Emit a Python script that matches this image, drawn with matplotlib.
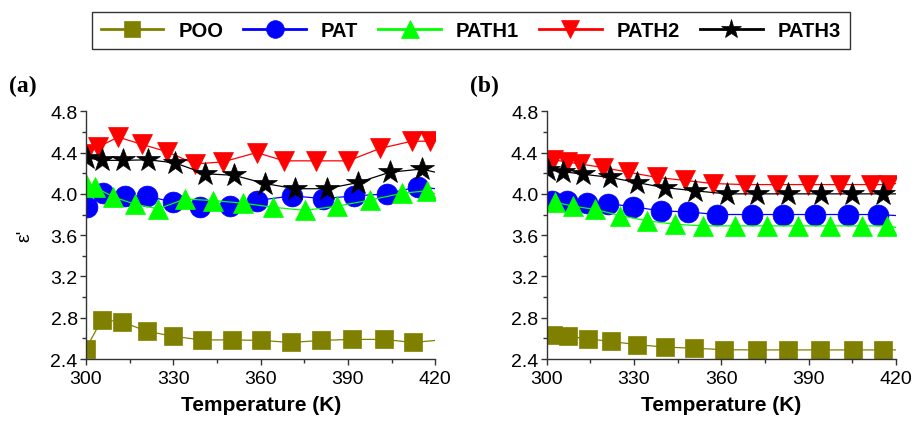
import matplotlib
matplotlib.use('Agg')
import matplotlib.pyplot as plt
from matplotlib.ticker import MultipleLocator

plt.rcParams['font.family'] = ['Liberation Sans', 'DejaVu Sans']

# panel (a)
t_poo_a = [300, 305.4, 312.4, 320.8, 329.9, 339.7, 350.0, 360.2, 370.5, 380.6, 391.4, 402.3, 412.5, 420]
poo_a = [2.50, 2.78, 2.76, 2.67, 2.62, 2.585, 2.585, 2.58, 2.56, 2.58, 2.59, 2.59, 2.56, 2.58]
t_pat_a = [300.5, 305.9, 313.4, 320.8, 329.8, 339.2, 349.5, 358.6, 370.7, 381.5, 392.2, 403.3, 414.2, 420]
pat_a = [3.87, 4.01, 3.98, 3.98, 3.92, 3.87, 3.88, 3.935, 3.98, 3.955, 3.98, 4.00, 4.07, 4.05]
t_path1_a = [300, 303.1, 309.4, 316.8, 324.8, 334.0, 343.7, 354.0, 364.3, 375.2, 386.1, 397.6, 408.5, 417.0, 420]
path1_a = [4.10, 4.065, 3.97, 3.90, 3.855, 3.95, 3.935, 3.91, 3.87, 3.84, 3.88, 3.94, 4.005, 4.03, 4.00]
t_path2_a = [300, 304.2, 311.1, 319.1, 327.7, 337.4, 347.1, 358.6, 368.1, 379.0, 390.1, 401.0, 411.9, 418.2, 420]
path2_a = [4.39, 4.455, 4.55, 4.48, 4.41, 4.29, 4.31, 4.40, 4.32, 4.32, 4.32, 4.44, 4.51, 4.51, 4.52]
t_path3_a = [300.5, 305.4, 312.8, 321.4, 330.6, 340.9, 350.8, 361.5, 371.8, 382.7, 393.5, 404.4, 415.3, 420]
path3_a = [4.35, 4.325, 4.325, 4.33, 4.30, 4.195, 4.18, 4.10, 4.05, 4.05, 4.11, 4.21, 4.24, 4.21]

# panel (b)
t_poo_b = [302.3, 307.4, 314.3, 322.0, 330.9, 340.6, 350.6, 360.9, 372.1, 383.0, 393.9, 405.3, 415.6, 420]
poo_b = [2.63, 2.62, 2.595, 2.57, 2.54, 2.515, 2.505, 2.49, 2.488, 2.488, 2.488, 2.488, 2.488, 2.488]
t_pat_b = [301.7, 306.9, 313.7, 321.2, 329.7, 339.2, 348.6, 358.4, 370.4, 381.3, 392.2, 403.4, 413.9, 420]
pat_b = [3.93, 3.93, 3.915, 3.905, 3.875, 3.835, 3.825, 3.80, 3.80, 3.80, 3.80, 3.80, 3.80, 3.79]
t_path1_b = [302.9, 309.1, 316.6, 325.2, 334.4, 344.1, 353.8, 364.7, 375.6, 386.4, 397.3, 408.2, 416.8, 420]
path1_b = [3.92, 3.88, 3.85, 3.79, 3.74, 3.705, 3.69, 3.69, 3.69, 3.69, 3.69, 3.69, 3.69, 3.675]
t_path2_b = [302.3, 306.9, 311.4, 319.4, 328.0, 337.8, 347.5, 357.2, 368.1, 379.0, 389.9, 400.8, 411.6, 417.3, 420]
path2_b = [4.33, 4.31, 4.29, 4.255, 4.21, 4.16, 4.13, 4.10, 4.09, 4.09, 4.09, 4.09, 4.09, 4.09, 4.10]
t_path3_b = [300.6, 305.7, 312.6, 321.7, 330.9, 340.6, 350.9, 361.8, 372.1, 383.0, 394.2, 404.8, 415.6, 420]
path3_b = [4.23, 4.215, 4.19, 4.16, 4.11, 4.06, 4.03, 4.00, 4.00, 4.00, 4.00, 4.00, 4.00, 4.00]

names = ['POO', 'PAT', 'PATH1', 'PATH2', 'PATH3']
colors = ['#808000', '#0000ff', '#00ff00', '#ff0000', '#000000']
markers = ['s', 'o', '^', 'v', '*']
sizes = [13, 15, 15, 15, 17.5]


def draw_panel(ax, series, tag):
    for (t, y), name, c, m, ms in zip(series, names, colors, markers, sizes):
        ax.plot(t, y, color=c, lw=0.9, marker=m, ms=ms, mfc=c, mec=c, mew=0.5,
                markevery=slice(None, -1), label=name)
    ax.set_xlim(300, 420)
    ax.set_ylim(2.4, 4.8)
    ax.xaxis.set_major_locator(MultipleLocator(30))
    ax.xaxis.set_minor_locator(MultipleLocator(15))
    ax.yaxis.set_major_locator(MultipleLocator(0.4))
    ax.yaxis.set_minor_locator(MultipleLocator(0.2))
    ax.yaxis.set_major_formatter(plt.FormatStrFormatter('%.1f'))
    ax.spines['top'].set_visible(False)
    ax.spines['right'].set_visible(False)
    for s in ['left', 'bottom']:
        ax.spines[s].set_linewidth(1.0)
        ax.spines[s].set_color('#333333')
    ax.tick_params(which='major', direction='out', length=4.5, width=1, labelsize=14, color='#333333')
    ax.tick_params(axis='y', which='major', pad=1.5)
    ax.tick_params(which='minor', direction='out', length=3, width=1, color='#333333')
    ax.set_xlabel('Temperature (K)', fontsize=15, fontweight='bold', labelpad=6)
    ax.text(-0.22, 1.105, tag, transform=ax.transAxes, fontsize=17, fontweight='bold',
            family='Liberation Serif', va='center', ha='left')


fig = plt.figure(figsize=(9.16, 4.27), dpi=100)
ax1 = fig.add_axes([0.0939, 0.1569, 0.3813, 0.5801])
ax2 = fig.add_axes([0.5968, 0.1569, 0.3813, 0.5801])

draw_panel(ax1, [(t_poo_a, poo_a), (t_pat_a, pat_a), (t_path1_a, path1_a),
                 (t_path2_a, path2_a), (t_path3_a, path3_a)], '(a)')
draw_panel(ax2, [(t_poo_b, poo_b), (t_pat_b, pat_b), (t_path1_b, path1_b),
                 (t_path2_b, path2_b), (t_path3_b, path3_b)], '(b)')

ax1.set_ylabel("ε'", fontsize=14, labelpad=12)

handles, labels = ax1.get_legend_handles_labels()
leg = fig.legend(handles, labels, loc='upper center', bbox_to_anchor=(0.514, 0.993), ncol=5,
                 frameon=True, fancybox=False, edgecolor='black', markerscale=0.85,
                 handlelength=3.1, handletextpad=0.75, columnspacing=1.0,
                 prop={'weight': 'bold', 'size': 14.5}, borderpad=0.45)
leg.get_frame().set_linewidth(1.0)
for line in leg.get_lines():
    line.set_linewidth(2.0)

fig.savefig('out.png', dpi=100)
